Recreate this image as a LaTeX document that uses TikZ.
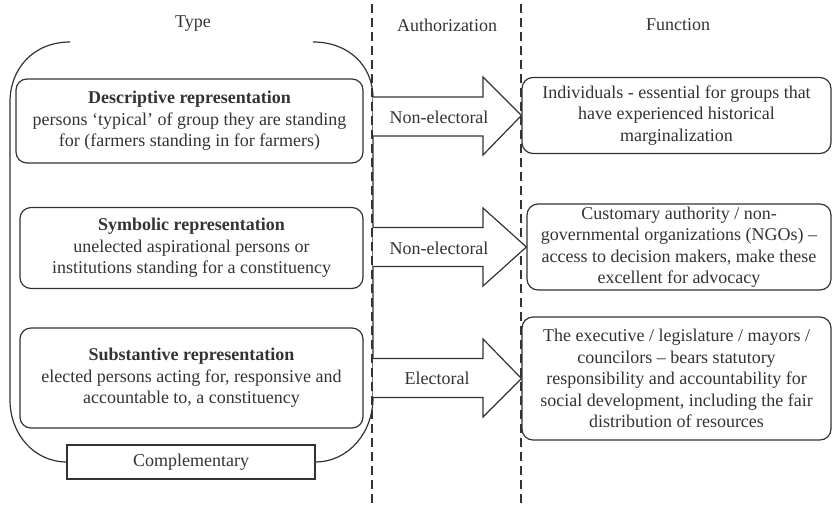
\documentclass[tikz,border=0pt]{standalone}
\usepackage{fontspec}
\setmainfont{Liberation Serif}
\begin{document}
\begin{tikzpicture}[x=1pt,y=-1pt,
  ln/.style={draw=black!80,line width=1.2pt},
  txt/.style={font=\fontsize{18}{21.5}\selectfont,text=black!80,align=center,inner sep=0pt},
  rbox/.style={ln,rounded corners=11pt,inner sep=0pt,align=center,font=\fontsize{18}{21.5}\selectfont,text=black!80},
  sepline/.style={draw=black!80,line width=1.2pt,dash pattern=on 9pt off 5pt},
  fatarrow/.style={ln,fill=white,line join=miter}]
\useasboundingbox (0,0) rectangle (833,507);
% headers
\node[txt] (htype) at (193,24) {Type};
\node[txt] (hauth) at (447,25) {Authorization};
\node[txt] (hfunc) at (678,25) {Function};
% separators
\coordinate (s1t) at (372,4); \coordinate (s1b) at (372,503);
\coordinate (s2t) at (521,4); \coordinate (s2b) at (521,503);
\draw[sepline] (s1t) -- (s1b);
\draw[sepline] (s2t) -- (s2b);
% outer bracket
\draw[ln] (70,42) .. controls (34,42) and (10,68) .. (10,102) -- (10,400) .. controls (10,434) and (34,462) .. (67,462);
\draw[ln] (313,42) .. controls (349,42) and (373,66) .. (373,98) -- (373,398) .. controls (373,432) and (349,462) .. (315,462);
\node[ln,fill=white,minimum width=248pt,minimum height=34pt,inner sep=0pt,font=\fontsize{18}{21.5}\selectfont,text=black!80] (comp) at (191,462) {Complementary};
% type boxes
\node[rbox,minimum width=347pt,minimum height=84pt] (desc) at (189.5,121) {\textbf{Descriptive representation}\\persons ‘typical’ of group they are standing\\for (farmers standing in for farmers)};
\node[rbox,minimum width=343pt,minimum height=81pt] (symb) at (191.5,248) {\textbf{Symbolic representation}\\unelected aspirational persons or\\institutions standing for a constituency};
\node[rbox,minimum width=343pt,minimum height=100pt] (subs) at (191.5,378) {\textbf{Substantive representation}\\elected persons acting for, responsive and\\accountable to, a constituency};
% function boxes
\node[rbox,minimum width=309pt,minimum height=76pt] (f1) at (676.5,115.5) {Individuals - essential for groups that\\have experienced historical\\marginalization};
\node[rbox,minimum width=304pt,minimum height=86pt] (f2) at (679,247) {Customary authority / non-\\governmental organizations (NGOs) –\\access to decision makers, make these\\excellent for advocacy};
\node[rbox,minimum width=309pt,minimum height=123pt] (f3) at (676.5,378.5) {The executive / legislature / mayors /\\councilors – bears statutory\\responsibility and accountability for\\social development, including the fair\\distribution of resources};
% arrows
\draw[fatarrow] (373,97) -- (483,97) -- (483,77) -- (f1.west) -- (483,155) -- (483,136) -- (373,136);
\draw[fatarrow] (373,227.5) -- (483,227.5) -- (483,208) -- (f2.west) -- (483,286) -- (483,266.5) -- (373,266.5);
\draw[fatarrow] (373,358.5) -- (483,358.5) -- (483,339) -- (f3.west) -- (483,417) -- (483,397.5) -- (373,397.5);
\node[txt] (a1) at (439,117) {Non-electoral};
\node[txt] (a2) at (439,248) {Non-electoral};
\node[txt] (a3) at (437,378) {Electoral};
\end{tikzpicture}
\end{document}
